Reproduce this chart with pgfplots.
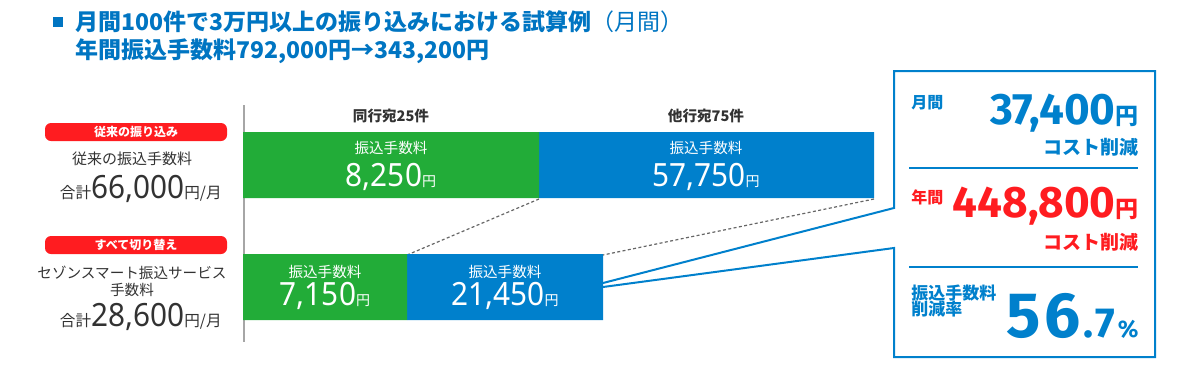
\documentclass[border=0pt]{standalone}
\usepackage{fontspec}
\usepackage{pgfplots}
\pgfplotsset{compat=1.18}
\usepackage{pgfplotstable}
\setmainfont{Noto Sans CJK JP}
\newfontfamily\numfont[FakeStretch=0.93]{Noto Sans}
\newfontfamily\bnum{Fira Sans}
\definecolor{cblue}{RGB}{0,128,204}
\definecolor{cgreen}{RGB}{34,172,56}
\definecolor{cred}{RGB}{255,28,32}
\definecolor{ctitle}{RGB}{0,117,194}
\definecolor{ctext}{RGB}{50,50,50}
\definecolor{cwhite}{RGB}{255,255,255}
\newcommand\fs[1]{\fontsize{#1}{#1}\selectfont}
% drawn bar lengths (illustrative, as in the original figure), rows at y
% displayed values: top 8,250 / 57,750 ; bottom 7,150 / 21,450
\pgfplotstableread{
row green blue
165 296 335
287 164 196
}\bars
\begin{document}
\begin{tikzpicture}
\begin{axis}[scale only axis, width=600pt, height=185pt,
  xmin=-243, xmax=957, ymin=0, ymax=370, y dir=reverse,
  hide axis, clip=false, xbar stacked, bar width=66]
\addplot[fill=cgreen, draw=none] table[x=green, y=row]{\bars};
\addplot[fill=cblue, draw=none] table[x=blue, y=row]{\bars};

% title
\fill[ctitle] (axis cs:-190,17) rectangle (axis cs:-180,27);
\node[anchor=west, inner sep=0, text=ctitle] at (axis cs:-168,22) {\fs{11.5pt}\bfseries 月間100件で3万円以上の振り込みにおける試算例\mdseries（月間）};
\node[anchor=west, inner sep=0, text=ctitle] at (axis cs:-168,51) {\fs{11.5pt}\bfseries 年間振込手数料792,000円→343,200円};

% left labels
\fill[cred, rounded corners=3pt] (axis cs:-198,123) rectangle (axis cs:-16,141);
\fill[cred, rounded corners=3pt] (axis cs:-198,236) rectangle (axis cs:-16,254);
\node[inner sep=0, text=ctext] at (axis cs:-111,159) {\fs{7.5pt}従来の振込手数料};
\node[anchor=base east, inner sep=0, text=ctext] at (axis cs:-21,198) {\fs{7.8pt}合計{\numfont\fs{16pt}66,000}円/月};
\node[inner sep=0, text=ctext] at (axis cs:-111,273) {\fs{7.3pt}セゾンスマート振込サービス};
\node[inner sep=0, text=ctext] at (axis cs:-111,290) {\fs{7.3pt}手数料};
\node[anchor=base east, inner sep=0, text=ctext] at (axis cs:-21,326) {\fs{7.8pt}合計{\numfont\fs{16pt}28,600}円/月};

% axis line
\draw[black!35, line width=1pt] (axis cs:1,105) -- (axis cs:1,342);

% bar headers
\node[inner sep=0, text=ctext] at (axis cs:148,116) {\fs{7.3pt}\bfseries 同行宛25件};
\node[inner sep=0, text=ctext] at (axis cs:463,116) {\fs{7.3pt}\bfseries 他行宛75件};

% dashed connectors
\draw[black!60, line width=0.6pt, dash pattern=on 1.5pt off 1.2pt] (axis cs:296,199) -- (axis cs:164,255);
\draw[black!60, line width=0.6pt, dash pattern=on 1.5pt off 1.2pt] (axis cs:631,199) -- (axis cs:360,255);

% callout
\draw[cblue, line width=1pt] (axis cs:360,283) -- (axis cs:651,208) -- (axis cs:651,71) -- (axis cs:912,71) -- (axis cs:912,357) -- (axis cs:651,357) -- (axis cs:651,248) -- (axis cs:360,287);
\draw[cblue, line width=1pt] (axis cs:666,168) -- (axis cs:895,168);
\draw[cblue, line width=1pt] (axis cs:666,267) -- (axis cs:895,267);

\node[anchor=west, inner sep=0, text=cblue] at (axis cs:668,103) {\fs{8pt}\bfseries 月間};
\node[anchor=base east, inner sep=0, text=cblue] at (axis cs:896,124) {\bnum\bfseries\fs{22pt}37,400\rmfamily\fs{11.5pt}円};
\node[anchor=east, inner sep=0, text=cblue] at (axis cs:896,147) {\fs{9.5pt}\bfseries コスト削減};
\node[anchor=west, inner sep=0, text=cred] at (axis cs:668,197) {\fs{8pt}\bfseries 年間};
\node[anchor=base east, inner sep=0, text=cred] at (axis cs:896,217) {\bnum\bfseries\fs{22pt}448,800\rmfamily\fs{11.5pt}円};
\node[anchor=east, inner sep=0, text=cred] at (axis cs:896,242) {\fs{9.5pt}\bfseries コスト削減};
\node[anchor=west, inner sep=0, text=cblue] at (axis cs:668,293) {\fs{8.5pt}\bfseries 振込手数料};
\node[anchor=west, inner sep=0, text=cblue] at (axis cs:668,309) {\fs{8.5pt}\bfseries 削減率};
\node[anchor=base east, inner sep=0, text=cblue] at (axis cs:896,337) {\bnum\bfseries{\fs{32pt}5\kern1.5pt6}\kern1.5pt{\fs{21pt}.\kern1pt7}\kern1.5pt{\fs{12pt}\%}};

% anchor points for the white labels (drawn after the axis)
\coordinate (p1) at (axis cs:-107,132);
\coordinate (p2) at (axis cs:-107,245);
\coordinate (a1) at (axis cs:148,148);
\coordinate (a2) at (axis cs:148,186);
\coordinate (b1) at (axis cs:463,148);
\coordinate (b2) at (axis cs:463,186);
\coordinate (c1) at (axis cs:82,272);
\coordinate (c2) at (axis cs:82,305);
\coordinate (d1) at (axis cs:262,272);
\coordinate (d2) at (axis cs:262,305);
\end{axis}
\node[inner sep=0, text=cwhite] at (p1) {\fs{6pt}\bfseries 従来の振り込み};
\node[inner sep=0, text=cwhite] at (p2) {\fs{6pt}\bfseries すべて切り替え};
\node[inner sep=0, text=cwhite] at (a1) {\fs{7.3pt}振込手数料};
\node[anchor=base, inner sep=0, text=cwhite] at (a2) {\numfont\fs{16pt}8,250\rmfamily\fs{7pt}円};
\node[inner sep=0, text=cwhite] at (b1) {\fs{7.3pt}振込手数料};
\node[anchor=base, inner sep=0, text=cwhite] at (b2) {\numfont\fs{16pt}57,750\rmfamily\fs{7pt}円};
\node[inner sep=0, text=cwhite] at (c1) {\fs{7.3pt}振込手数料};
\node[anchor=base, inner sep=0, text=cwhite] at (c2) {\numfont\fs{16pt}7,150\rmfamily\fs{7pt}円};
\node[inner sep=0, text=cwhite] at (d1) {\fs{7.3pt}振込手数料};
\node[anchor=base, inner sep=0, text=cwhite] at (d2) {\numfont\fs{16pt}21,450\rmfamily\fs{7pt}円};
\pgfresetboundingbox
\path[use as bounding box] (current axis.south west) rectangle (current axis.north east);
\end{tikzpicture}
\end{document}
